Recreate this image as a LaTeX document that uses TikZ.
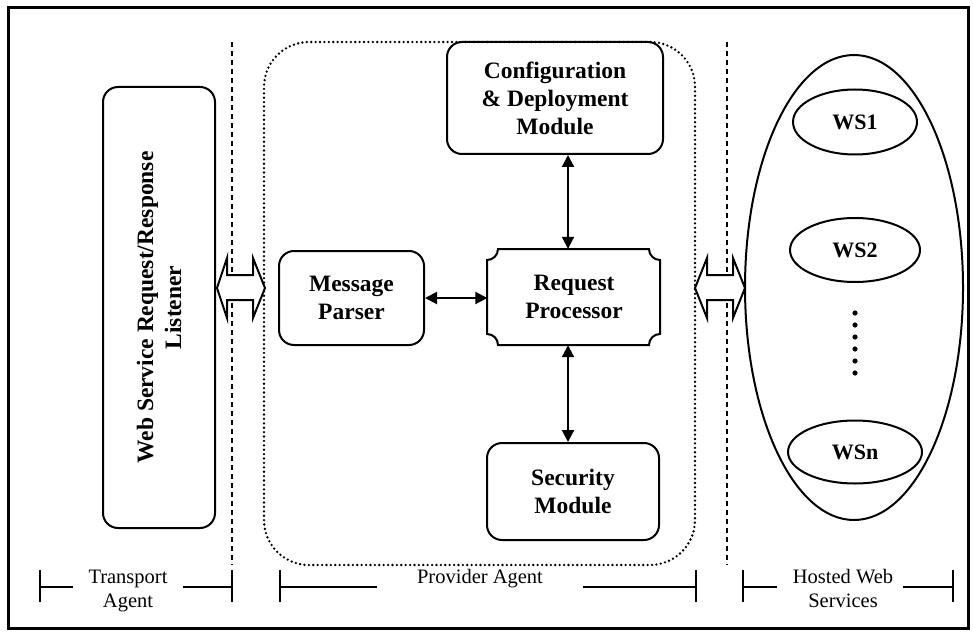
\documentclass[tikz,border=0pt]{standalone}
\usepackage{fontspec}
\setmainfont{Liberation Serif}
\usetikzlibrary{arrows.meta,shapes.geometric}
\begin{document}
\begin{tikzpicture}[x=1pt,y=-1pt,
  box/.style={draw, line width=2pt, rounded corners=15pt, align=center, inner sep=0pt,
    font=\bfseries\fontsize{23.5}{28}\selectfont},
  plain/.style={align=center, inner sep=0pt, font=\bfseries\fontsize{23.5}{28}\selectfont},
  wsnode/.style={draw, ellipse, line width=2pt, inner sep=0pt, font=\bfseries\fontsize{22}{26}\selectfont},
  dbl/.style={{Triangle[length=12pt,width=12pt]}-{Triangle[length=12pt,width=12pt]}, line width=2pt},
  dashline/.style={line width=1.2pt, dash pattern=on 5pt off 4pt},
  dotline/.style={line width=2.6pt, line cap=round, dash pattern=on 0pt off 4.4pt},
  hollow/.style={draw, line width=2pt, fill=white, line join=miter},
  lbl/.style={align=center, inner sep=0pt, font=\fontsize{20.5}{24}\selectfont},
  brk/.style={line width=2pt}
]
\useasboundingbox (0,0) rectangle (973,631);
% frame
\draw[line width=3pt] (8,8) rectangle (968,628);

% separators
\draw[dashline] (232,42) -- (232,565);
\draw[dashline] (727,42) -- (727,565);

% provider container
\node[draw, dotline, rounded corners=45pt, minimum width=431pt, minimum height=523pt, inner sep=0pt] (pa) at (479.5,303.5) {};

% listener
\node[box, rotate=90, minimum width=441pt, minimum height=112pt] (lis) at (159,307.5) {Web Service Request/Response\\Listener};

% configuration
\node[box, minimum width=216pt, minimum height=112pt] (cfg) at (555,98) {Configuration\\\& Deployment\\Module};

% message parser
\node[box, minimum width=145pt, minimum height=94pt] (mp) at (351.5,298) {Message\\Parser};

% request processor
\node[plain, minimum width=173pt, minimum height=96pt] (rp) at (574,297) {Request\\Processor};
\draw[line width=2pt] (498,249) -- (649,249) arc[start angle=180,end angle=90,radius=11]
  -- (660,334) arc[start angle=270,end angle=180,radius=11]
  -- (498,345) arc[start angle=0,end angle=-90,radius=11]
  -- (487,260) arc[start angle=90,end angle=0,radius=11] -- cycle;

% security
\node[box, minimum width=172pt, minimum height=97pt] (sec) at (573,491.5) {Security\\Module};

% arrows
\coordinate (ax) at (568,0);
\draw[dbl] (cfg.south -| ax) -- (rp.north -| ax);
\draw[dbl] (rp.south -| ax) -- (sec.north -| ax);
\draw[dbl] (mp.east) -- (rp.west |- mp.east);

% hosted web services
\node[draw, ellipse, line width=2pt, minimum width=218pt, minimum height=465pt, inner sep=0pt] (hws) at (854,287.5) {};
\node[wsnode, minimum width=124pt, minimum height=65pt] (ws1) at (855,122) {WS1};
\node[wsnode, minimum width=130pt, minimum height=64pt] (ws2) at (855,250) {WS2};
\node[wsnode, minimum width=134pt, minimum height=63pt] (wsn) at (855,452) {WSn};
\foreach \yy in {313,325,337,349,361,373} \fill (855,\yy) circle (2.6pt);

% hollow double arrows
\draw[hollow] (217,288) -- (227,258) -- (227,275) -- (253,275) -- (253,258) -- (265,288)
  -- (253,318) -- (253,300) -- (227,300) -- (227,318) -- cycle;
\draw[hollow] (695,288) -- (707,258) -- (707,275) -- (733,275) -- (733,258) -- (745,288)
  -- (733,318) -- (733,300) -- (707,300) -- (707,318) -- cycle;

% bottom labels
\node[lbl] (ta) at (128,590.5) {Transport\\Agent};
\node[lbl] (pl) at (480,578.5) {Provider Agent};
\node[lbl] (hl) at (843,588.5) {Hosted Web\\Services};
\draw[brk] (40,570) -- (40,602) (40,587) -- (73,587) (183,587) -- (232,587) (232,570) -- (232,602);
\draw[brk] (280,570) -- (280,602) (280,587) -- (377,587) (583,587) -- (696,587) (696,570) -- (696,602);
\draw[brk] (743,570) -- (743,602) (743,587) -- (777,587) (903,587) -- (953,587) (953,570) -- (953,602);
\end{tikzpicture}
\end{document}
